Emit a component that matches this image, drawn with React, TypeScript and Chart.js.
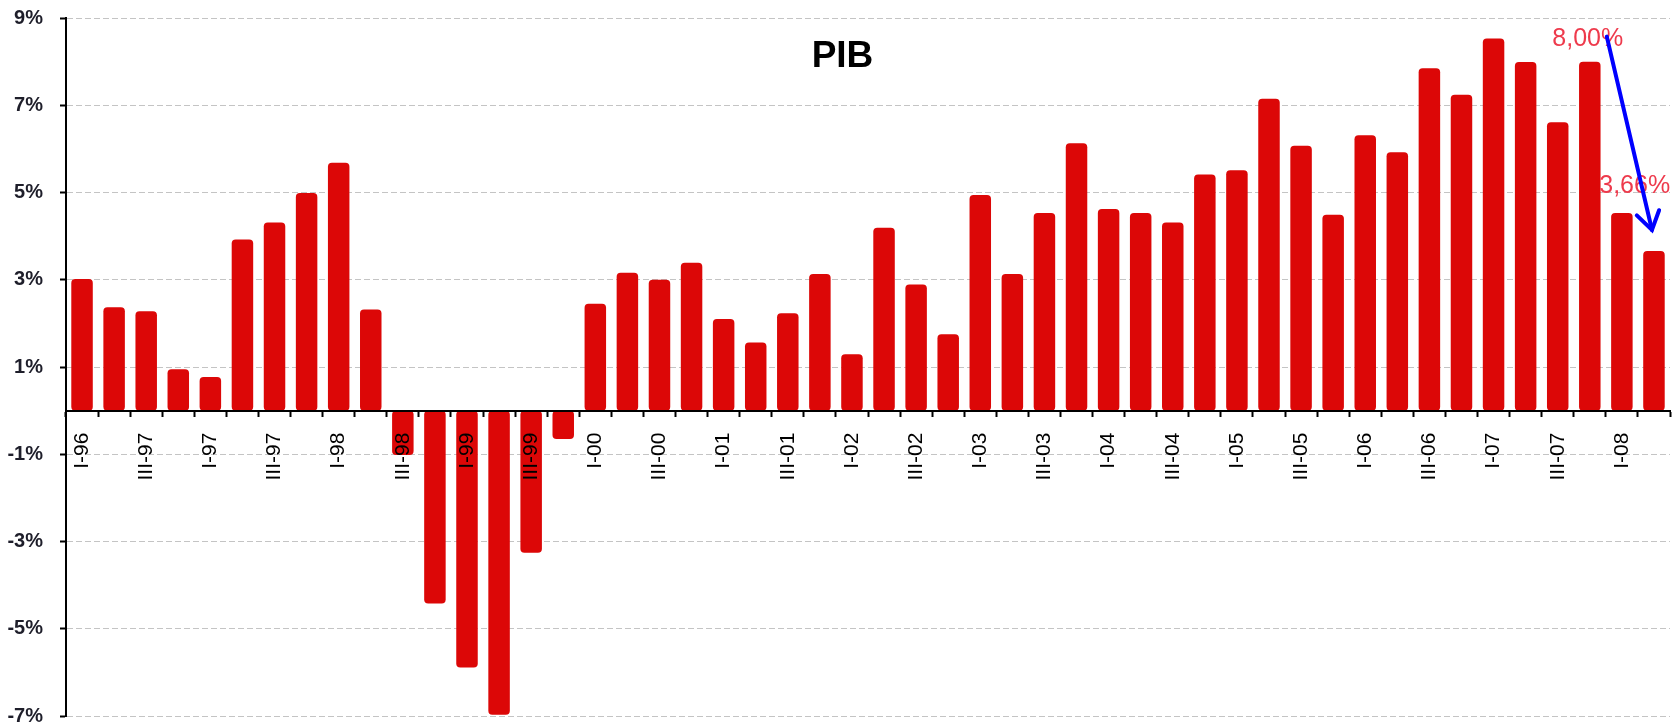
import React, { useEffect, useRef } from 'react';
import { Chart, registerables } from 'chart.js';

Chart.register(...registerables);

// Quarter labels (as printed on the original axis; every second one is shown)
const quarterLabels = [
  'I-96', 'II-96', 'III-97', 'IV-96',
  'I-97', 'II-97', 'III-97', 'IV-97',
  'I-98', 'II-98', 'III-98', 'IV-98',
  'I-99', 'II-99', 'III-99', 'IV-99',
  'I-00', 'II-00', 'III-00', 'IV-00',
  'I-01', 'II-01', 'III-01', 'IV-01',
  'I-02', 'II-02', 'III-02', 'IV-02',
  'I-03', 'II-03', 'III-03', 'IV-03',
  'I-04', 'II-04', 'III-04', 'IV-04',
  'I-05', 'II-05', 'III-05', 'IV-05',
  'I-06', 'II-06', 'III-06', 'IV-06',
  'I-07', 'II-07', 'III-07', 'IV-07',
  'I-08', 'II-08',
];

// PIB growth, %
const pibGrowth = [
  3.02, 2.37, 2.28, 0.95,
  0.77, 3.92, 4.31, 4.99,
  5.68, 2.32, -1.02, -4.42,
  -5.89, -6.97, -3.26, -0.65,
  2.45, 3.16, 3.0, 3.39,
  2.1, 1.56, 2.23, 3.13,
  1.29, 4.19, 2.89, 1.75,
  4.94, 3.13, 4.53, 6.13,
  4.62, 4.53, 4.31, 5.41,
  5.51, 7.15, 6.07, 4.49,
  6.31, 5.92, 7.85, 7.24,
  8.53, 7.99, 6.61, 8.0,
  4.53, 3.66,
];

const yTicks = [-7, -5, -3, -1, 1, 3, 5, 7, 9];

const chartTitle = 'PIB';
const highIndex = 47;
const highLabel = '8,00%';
const lowIndex = 49;
const lowLabel = '3,66%';

const FONT = "'Liberation Sans', Arial, sans-serif";

const overlayPlugin = {
  id: 'pibOverlay',
  afterDraw(chart: any) {
    const { ctx, scales } = chart;
    const x = scales.x;
    const y = scales.y;
    ctx.save();
    // title
    ctx.font = `bold 37px ${FONT}`;
    ctx.fillStyle = '#000';
    ctx.textAlign = 'center';
    ctx.textBaseline = 'alphabetic';
    ctx.fillText(chartTitle, chart.width / 2 + 3, 67);

    const catW = x.getPixelForValue(1) - x.getPixelForValue(0);
    const xHi = x.getPixelForValue(highIndex);
    const yHi = y.getPixelForValue(pibGrowth[highIndex]);
    const xLo = x.getPixelForValue(lowIndex);
    const yLo = y.getPixelForValue(pibGrowth[lowIndex]);

    ctx.font = `25px ${FONT}`;
    ctx.fillStyle = '#ee3a4c';
    ctx.textAlign = 'center';
    ctx.fillText(highLabel, xHi - 2, yHi - 16);
    ctx.fillText(lowLabel, xLo - catW * 0.6, yLo - 58);

    // arrow
    const x1 = xHi + catW * 0.53;
    const y1 = yHi - 25;
    const x2 = xLo - 2;
    const y2 = yLo - 21;
    ctx.strokeStyle = '#0000ff';
    ctx.lineWidth = 4;
    ctx.lineCap = 'round';
    ctx.beginPath();
    ctx.moveTo(x1, y1);
    ctx.lineTo(x2, y2);
    ctx.stroke();
    const ang = Math.atan2(y2 - y1, x2 - x1) + Math.PI;
    const head = 21;
    const spread = (33 * Math.PI) / 180;
    ctx.beginPath();
    ctx.moveTo(x2 + head * Math.cos(ang - spread), y2 + head * Math.sin(ang - spread));
    ctx.lineTo(x2, y2);
    ctx.lineTo(x2 + head * Math.cos(ang + spread), y2 + head * Math.sin(ang + spread));
    ctx.stroke();
    ctx.restore();
  },
};

export default function App() {
  const canvasRef = useRef<HTMLCanvasElement | null>(null);

  useEffect(() => {
    const canvas = canvasRef.current;
    if (!canvas) return;
    const chart = new Chart(canvas, {
      type: 'bar',
      data: {
        labels: quarterLabels,
        datasets: [
          {
            label: 'PIB',
            data: pibGrowth,
            backgroundColor: '#dc0707',
            borderWidth: 0,
            borderRadius: 4,
            borderSkipped: false,
            barPercentage: 0.67,
            categoryPercentage: 1,
          },
        ],
      },
      options: {
        responsive: false,
        animation: false,
        devicePixelRatio: 1,
        layout: { padding: { top: 18, right: 9, bottom: 8, left: 0 } },
        plugins: {
          legend: { display: false },
          title: { display: false },
          tooltip: { enabled: false },
        },
        scales: {
          x: {
            type: 'category',
            position: { y: 0 },
            offset: true,
            grid: {
              display: true,
              offset: true,
              drawOnChartArea: false,
              drawTicks: true,
              tickLength: 5,
              tickColor: '#000',
              tickWidth: 2,
              tickBorderDash: [],
              z: 1,
            },
            border: { display: true, color: '#000', width: 2, z: 1 },
            ticks: {
              z: 1,
              autoSkip: false,
              maxRotation: 90,
              minRotation: 90,
              padding: 17,
              color: '#000',
              font: { family: FONT, size: 21 },
              callback: (_v: any, i: number) => (i % 2 === 0 ? quarterLabels[i] : ''),
            },
            afterFit: (axis: any) => {
              axis.paddingLeft = 0;
              axis.paddingRight = 0;
              axis.paddingTop = 0;
              axis.paddingBottom = 0;
            },
          },
          y: {
            type: 'linear',
            min: -7,
            max: 9,
            afterBuildTicks: (axis: any) => {
              axis.ticks = yTicks.map((v) => ({ value: v }));
            },
            grid: {
              color: '#c4c4c4',
              lineWidth: 1,
              drawTicks: true,
              tickLength: 6,
              tickColor: '#000',
              tickWidth: 2,
              tickBorderDash: [],
            },
            border: { display: true, color: '#000', width: 2, dash: [6, 3] },
            ticks: {
              padding: 17,
              color: '#1e1e2a',
              font: { family: FONT, size: 20, weight: 'bold' },
              callback: (v: any) => `${v}%`,
            },
            afterFit: (axis: any) => {
              axis.width = 66;
              axis.paddingTop = 0;
              axis.paddingBottom = 0;
            },
          },
        },
      },
      plugins: [overlayPlugin],
    });
    return () => chart.destroy();
  }, []);

  return (
    <div style={{ position: 'absolute', left: 0, top: 0, width: 1679, height: 724, background: '#fff' }}>
      <canvas ref={canvasRef} width={1679} height={724} style={{ display: 'block' }} />
    </div>
  );
}
